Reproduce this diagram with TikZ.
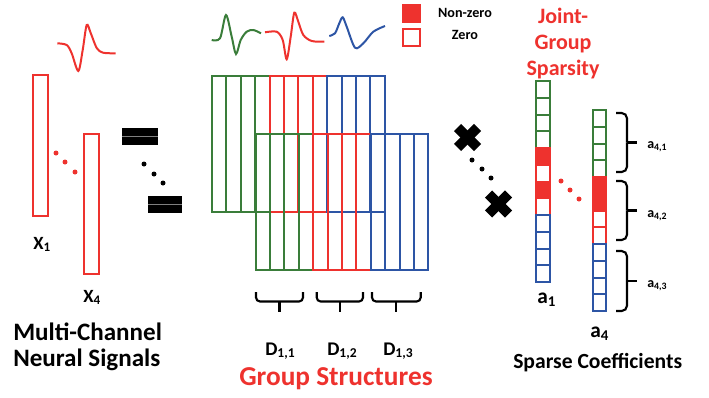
\documentclass[tikz,border=0pt]{standalone}
\usepackage{fontspec}
\setmainfont{Carlito}
\definecolor{cred}{RGB}{238,50,46}
\definecolor{cgreen}{RGB}{58,125,58}
\definecolor{cblue}{RGB}{45,85,165}
\begin{document}
\begin{tikzpicture}[x=0.75pt,y=-0.75pt,
  lbl/.style={inner sep=0pt, anchor=base west, font=\bfseries},
  ctr/.style={inner sep=0pt, anchor=base, font=\bfseries},
  wave/.style={line width=1.5pt},
  col/.style={line width=1.5pt},
  gc/.style={draw=cgreen, fill=white, line width=1.5pt},
  bc/.style={draw=cblue, fill=white, line width=1.5pt},
  rf/.style={draw=cred, fill=cred, line width=1.5pt},
  re/.style={draw=cred, fill=white, line width=1.5pt},
  sig/.style={draw=cred, line width=1.5pt},
  crs/.style={line width=7.5pt},
  brk/.style={line width=1.6pt, rounded corners=3pt},
  stub/.style={line width=1.6pt}
]
\useasboundingbox (0,0) rectangle (709,397);

% ---------- Multi-channel signals ----------
\draw[wave, cred] plot[smooth] coordinates {(57.3,43.3) (66.7,45) (71.7,53.3) (78.3,71) (82.7,50) (86.7,25) (90.7,33) (96.7,48) (103,52.7) (115.7,53.3)};
\draw[sig] (33,75) rectangle (48,216);
\draw[sig] (84,134) rectangle (98.5,274);
\foreach \p in {(56,153),(65,162),(75,172)} \fill[cred] \p circle (2.5);
\node[lbl, font=\bfseries\fontsize{14}{16}\selectfont] (x1) at (33,249) {X\textsubscript{1}};
\node[lbl, font=\bfseries\fontsize{14}{16}\selectfont] (x4) at (83,302) {X\textsubscript{4}};
\node[lbl, font=\bfseries\fontsize{18.8}{22}\selectfont] (mc1) at (13,340) {Multi-Channel};
\node[lbl, font=\bfseries\fontsize{18.8}{22}\selectfont] (mc2) at (13,366) {Neural Signals};

% ---------- equals ----------
\fill (122,128) rectangle (158,145);
\draw[gray, line width=0.75pt] (122,136.5) -- (158,136.5);
\fill (148,196) rectangle (182,213);
\draw[gray, line width=0.75pt] (148,204.5) -- (182,204.5);
\foreach \p in {(144,164),(154,174),(163,183)} \fill \p circle (2.5);

% ---------- waveforms over dictionary ----------
\draw[wave, cgreen] plot[smooth] coordinates {(211.7,40) (220,38.3) (226,15) (231.7,36.7) (236,54) (240.7,40) (246.7,31.7) (253.3,30) (261,33.3)};
\draw[wave, cred] plot[smooth] coordinates {(265,32.3) (276.7,31.7) (282.7,40) (286.7,59.3) (290.7,36.7) (294.3,12.7) (298.3,21.7) (303.3,35) (311.7,41) (324.3,41.7)};
\draw[wave, cblue] plot[smooth] coordinates {(329.3,36) (335,33.3) (339.3,23.3) (342.7,17.3) (346.7,26.7) (355,47.7) (363.3,43.3) (373.3,31.7) (385,26)};

% ---------- dictionary blocks ----------
\foreach \i in {0,...,3} \draw[col, cgreen] ({212+14.4*\i},76) rectangle ++(14.4,136);
\foreach \i in {4,...,7} \draw[col, cred] ({212+14.4*\i},76) rectangle ++(14.4,136);
\foreach \i in {8,...,11} \draw[col, cblue] ({212+14.4*\i},76) rectangle ++(14.4,136);
\foreach \i in {0,...,3} \draw[col, cgreen] ({255.5+14.4*\i},134) rectangle ++(14.4,136);
\foreach \i in {4,...,7} \draw[col, cred] ({255.5+14.4*\i},134) rectangle ++(14.4,136);
\foreach \i in {8,...,11} \draw[col, cblue] ({255.5+14.4*\i},134) rectangle ++(14.4,136);

% braces under dictionary
\foreach \l/\r in {256/303, 316.7/363, 372/420.7} {
  \draw[brk] (\l,292) -- (\l,301.5) -- (\r,301.5) -- (\r,292);
  \draw[stub] ({(\l+\r)/2},301.5) -- ({(\l+\r)/2},312);
}
\node[lbl, font=\bfseries\fontsize{14.5}{17}\selectfont] (D11) at (265,355) {D\textsubscript{1,1}};
\node[lbl, font=\bfseries\fontsize{14.5}{17}\selectfont] (D12) at (327,355) {D\textsubscript{1,2}};
\node[lbl, font=\bfseries\fontsize{14.5}{17}\selectfont] (D13) at (383,355) {D\textsubscript{1,3}};
\node[lbl, text=cred, font=\bfseries\fontsize{20.5}{24}\selectfont] (gs) at (239,385) {Group Structures};

% ---------- legend ----------
\fill[cred] (402,4) rectangle (421,23);
\draw[re] (403,29) rectangle (420,46);
\node[ctr, font=\bfseries\fontsize{10.6}{12}\selectfont] (nz) at (465,17) {Non-zero};
\node[ctr, font=\bfseries\fontsize{10.6}{12}\selectfont] (zr) at (465,39) {Zero};

% ---------- multiplication ----------
\draw[crs] (457.5,127.5) -- (477.5,147.5);
\draw[crs] (457.5,147.5) -- (477.5,127.5);
\draw[crs] (488.5,194) -- (508.5,214);
\draw[crs] (488.5,214) -- (508.5,194);
\foreach \p in {(472,160),(482,169),(491,178)} \fill \p circle (2.5);

% ---------- sparse coefficients ----------
\node[ctr, text=cred, font=\bfseries\fontsize{16.5}{20}\selectfont] (jg1) at (563,23) {Joint-};
\node[ctr, text=cred, font=\bfseries\fontsize{16.5}{20}\selectfont] (jg2) at (563,49) {Group};
\node[ctr, text=cred, font=\bfseries\fontsize{16.5}{20}\selectfont] (jg3) at (563,75) {Sparsity};

\foreach \s [count=\i from 0] in {gc,gc,gc,gc,rf,re,rf,re,bc,bc,bc,bc}
  \draw[\s] (536,{81+16.75*\i}) rectangle ++(13.5,16.75);
\foreach \s [count=\i from 0] in {gc,gc,gc,gc,rf,rf,re,re,bc,bc,bc,bc}
  \draw[\s] (592.5,{110+16.75*\i}) rectangle ++(13.5,16.75);
\foreach \p in {(561,181),(570,190),(579,199)} \fill[cred] \p circle (2.5);

\foreach \t/\b in {113/172, 181/240, 251/311} {
  \draw[brk, rounded corners=4pt] (616,\t) -- (627,\t) -- (627,{(\t+\b)/2});
  \draw[brk, rounded corners=4pt] (627,{(\t+\b)/2}) -- (627,\b) -- (616,\b);
  \draw[stub] (627,{(\t+\b)/2}) -- (637,{(\t+\b)/2});
}
\node[lbl, font=\bfseries\fontsize{10.5}{12}\selectfont] (a41) at (647,148) {a\textsubscript{4,1}};
\node[lbl, font=\bfseries\fontsize{10.5}{12}\selectfont] (a42) at (647,217) {a\textsubscript{4,2}};
\node[lbl, font=\bfseries\fontsize{10.5}{12}\selectfont] (a43) at (647,287) {a\textsubscript{4,3}};

\node[lbl, font=\bfseries\fontsize{16}{18}\selectfont] (a1) at (537,303) {a\textsubscript{1}};
\node[lbl, font=\bfseries\fontsize{16}{18}\selectfont] (a4) at (590,337) {a\textsubscript{4}};
\node[lbl, font=\bfseries\fontsize{16.2}{19}\selectfont] (sc) at (513,368) {Sparse Coefficients};
\end{tikzpicture}
\end{document}
